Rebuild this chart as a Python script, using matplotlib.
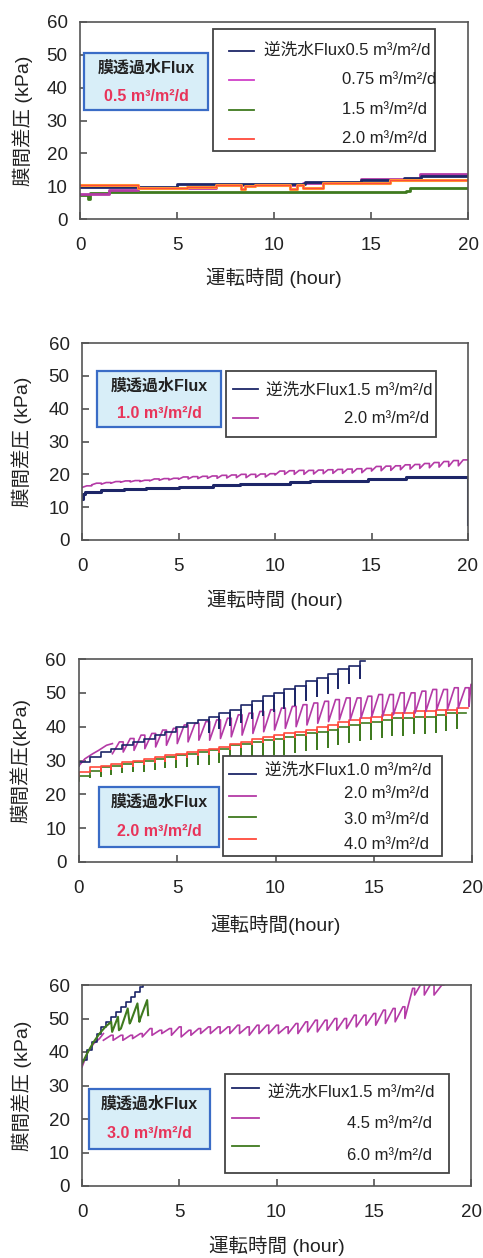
import numpy as np
import matplotlib
matplotlib.use("Agg")
import matplotlib.pyplot as plt
from matplotlib.patches import Rectangle

plt.rcParams['font.family'] = ['Liberation Sans', 'Noto Sans CJK JP']

NAVY = '#1d2668'
PINK = '#b43aa6'
GREEN = '#3f7a1f'
RED = '#ff4a3c'
ORANGE = '#ffa032'

# ---------------- panel 1 : filtration flux 0.5 (step data) ----------------
p1_navy_t = [0, 5.0, 11.6, 14.5, 16.7, 17.6, 20]
p1_navy_v = [9.8, 10.7, 11.4, 11.9, 12.6, 13.2, 13.2]
p1_pink_t = [0, 1.5, 3.0, 7.0, 11.5, 14.5, 17.5, 20]
p1_pink_v = [7.7, 8.9, 9.3, 10.4, 11.0, 12.3, 13.6, 13.6]
p1_green_t = [0, 0.3, 0.4, 0.5, 1.5, 16.8, 17.0, 20]
p1_green_v = [7.3, 7.3, 6.0, 7.8, 8.3, 8.4, 9.4, 9.4]
p1_orange_t = [0, 3.0, 5.5, 7.0, 8.3, 8.5, 9.0, 10.8, 11.2, 11.5, 12.5, 16.0, 20]
p1_orange_v = [10.5, 9.3, 9.7, 10.3, 9.0, 10.2, 10.3, 9.2, 10.3, 9.3, 11.0, 11.8, 11.8]

# ---------------- panel 2 : filtration flux 1.0 ----------------
p2_navy_t = [0, 0.05, 0.15, 1.0, 2.2, 3.3, 5.0, 6.8, 8.2, 10.8, 11.8, 14.8, 16.8, 19.97, 20.0]
p2_navy_v = [12.5, 14.0, 14.6, 15.1, 15.5, 15.8, 16.2, 16.8, 17.2, 17.6, 18.1, 18.6, 19.1, 19.1, 5.0]
p2_pink_t = [0.0, 0.5, 1.0, 1.5, 2.0, 2.5, 3.0, 3.5, 4.0, 4.5, 5.0, 5.5, 6.0, 6.5,
             7.0, 7.5, 8.0, 8.5, 9.0, 9.5, 10.0, 10.5, 11.0, 11.5, 12.0, 12.5, 13.0,
             13.5, 14.0, 14.5, 15.0, 15.5, 16.0, 16.5, 17.0, 17.5, 18.0, 18.5, 19.0,
             19.5, 20.0]
p2_pink_lo = [16.0, 16.8, 17.0, 17.3, 17.6, 17.7, 17.8, 18.0, 18.2, 18.3, 18.5, 18.6,
              18.7, 18.8, 18.8, 18.9, 19.0, 19.0, 19.1, 19.2, 19.8, 20.0, 20.0, 20.0,
              20.1, 20.2, 20.3, 20.3, 20.4, 20.5, 21.0, 21.1, 21.2, 21.4, 21.6, 21.8,
              22.0, 22.2, 22.4, 22.6]
p2_pink_hi = [16.5, 17.3, 17.5, 17.8, 18.0, 18.1, 18.2, 18.6, 18.7, 18.8, 19.2, 19.3,
              19.4, 19.5, 19.7, 19.8, 20.0, 20.0, 20.1, 20.2, 21.0, 21.1, 21.2, 21.2,
              21.3, 21.4, 21.5, 21.6, 21.7, 21.8, 22.4, 22.5, 22.6, 22.9, 23.0, 23.3,
              23.6, 23.9, 24.2, 24.4]

# ---------------- panel 3 : filtration flux 2.0 ----------------
p3_cyc = [0.0, 0.55, 1.1, 1.65, 2.2, 2.75, 3.3, 3.85, 4.4, 4.95, 5.5, 6.05, 6.6, 7.15,
          7.7, 8.25, 8.8, 9.35, 9.9, 10.45, 11.0, 11.55, 12.1, 12.65, 13.2, 13.75,
          14.3, 14.85, 15.4, 15.95, 16.5, 17.05, 17.6, 18.15, 18.7, 19.25, 19.8]
p3_navy_lvl = [29.5, 31.0, 32.5, 33.5, 34.5, 35.5, 36.5, 37.5, 38.5, 40.0, 41.0, 42.0,
               43.0, 44.0, 45.0, 46.5, 47.5, 49.0, 50.0, 51.0, 52.0, 53.5, 54.5, 55.5,
               57.0, 58.0, 59.5]
p3_navy_low = [28.5, 30.0, 31.5, 32.5, 33.5, 34.5, 35.5, 36.5, 37.5, 39.0, 40.0, 41.0,
               38.5, 39.5, 40.5, 41.5, 42.5, 43.5, 44.5, 45.5, 46.5, 48.0, 49.0, 50.0,
               51.5, 53.0, 54.5]
p3_navy_end = 14.55
p3_pink_pre_t = [0.0, 0.3, 0.7, 1.0, 1.4, 1.7]
p3_pink_pre_v = [28.5, 30.5, 32.0, 33.0, 34.5, 35.0]
p3_pink_t = [1.7, 2.25, 2.8, 3.35, 3.9, 4.45, 5.0, 5.55, 6.1, 6.65, 7.2, 7.75, 8.3,
             8.85, 9.4, 9.95, 10.5, 11.05, 11.6, 12.15, 12.7, 13.25, 13.8, 14.35,
             14.9, 15.45, 16.0, 16.55, 17.1, 17.65, 18.2, 18.75, 19.3, 19.85, 20.0]
p3_pink_lo = [32.0, 32.5, 33.0, 33.5, 34.0, 34.5, 35.0, 35.5, 36.0, 36.0, 36.5, 37.0,
              37.5, 38.0, 38.5, 39.0, 39.5, 40.0, 40.5, 41.0, 41.5, 42.0, 42.0, 42.5,
              43.0, 43.0, 43.5, 44.0, 44.0, 44.5, 45.0, 45.0, 45.5, 46.0]
p3_pink_hi = [35.5, 36.5, 37.5, 38.0, 39.0, 39.5, 40.5, 41.0, 41.5, 42.0, 42.5, 43.5,
              44.0, 44.5, 45.0, 45.5, 46.0, 46.5, 47.0, 47.5, 48.0, 48.5, 48.5, 49.0,
              49.5, 49.5, 50.0, 50.0, 50.5, 51.0, 51.0, 51.5, 51.5, 52.5]
p3_green_lvl = [25.5, 27.0, 28.0, 28.5, 29.0, 29.5, 30.0, 30.5, 31.0, 31.5, 32.0, 32.5,
                33.0, 33.5, 34.5, 35.0, 35.5, 36.0, 36.5, 37.0, 37.5, 38.0, 38.5, 39.0,
                40.0, 40.5, 41.0, 41.5, 42.0, 42.5, 42.5, 43.0, 43.0, 43.5, 44.0, 44.0]
p3_green_low = [24.0, 25.0, 25.5, 26.0, 26.5, 27.0, 27.0, 27.5, 28.0, 28.0, 28.5, 29.0,
                29.0, 29.5, 30.0, 30.5, 31.0, 31.5, 32.0, 32.0, 32.5, 33.0, 33.5, 34.0,
                35.0, 35.5, 36.0, 36.5, 37.0, 37.5, 37.5, 38.0, 38.0, 38.5, 39.0, 39.5]
p3_green_end = 19.7
p3_red_lvl = [26.5, 28.0, 28.5, 29.0, 29.5, 30.0, 30.5, 31.0, 31.5, 32.0, 32.5, 33.0,
              33.5, 34.0, 35.0, 35.5, 36.5, 37.0, 37.5, 38.0, 38.5, 39.0, 40.0, 40.5,
              41.5, 42.0, 42.5, 43.0, 43.5, 44.0, 44.0, 44.5, 44.5, 45.0, 45.0, 45.5]
p3_red_low = [25.5, 26.5, 27.0, 27.5, 28.0, 28.5, 29.0, 29.5, 30.0, 30.5, 31.0, 31.5,
              32.0, 32.5, 33.5, 34.0, 35.0, 35.5, 36.0, 36.5, 37.0, 37.5, 38.5, 39.0,
              40.0, 40.5, 41.0, 41.5, 42.0, 42.5, 42.5, 43.0, 43.0, 43.5, 43.5, 44.0]
p3_red_end = 19.8

# ---------------- panel 4 : filtration flux 3.0 ----------------
p4_navy_t = [0, 0.25, 0.5, 0.75, 1.0, 1.25, 1.5, 1.75, 2.0, 2.25, 2.5, 2.75, 3.0, 3.15]
p4_navy_v = [37.5, 40.5, 43.0, 45.5, 47.5, 49.0, 50.5, 52.0, 53.5, 55.0, 56.5, 58.0, 59.5, 60.5]
p4_green_t = [0, 0.3, 0.6, 0.9, 1.2, 1.5, 1.55, 1.85, 1.9, 2.0, 2.35, 2.45, 2.5,
              2.85, 2.95, 3.0, 3.35, 3.4]
p4_green_v = [36.5, 40.0, 43.0, 45.5, 47.5, 49.0, 46.0, 50.5, 46.5, 47.0, 53.0, 48.5,
              49.0, 54.5, 49.0, 50.0, 55.5, 51.0]
p4_pink_pre_t = [0.0, 0.3, 0.6, 0.9, 1.1]
p4_pink_pre_v = [35.5, 40.0, 42.5, 44.0, 45.5]
p4_pink_t = [1.1, 1.6, 2.1, 2.6, 3.1, 3.6, 4.1, 4.6, 5.1, 5.6, 6.1, 6.6, 7.1, 7.6,
             8.1, 8.6, 9.1, 9.6, 10.1, 10.6, 11.1, 11.6, 12.1, 12.6, 13.1, 13.6,
             14.1, 14.6, 15.1, 15.6, 16.1, 16.6, 17.1, 17.6, 18.1, 18.6]
p4_pink_lo = [43.5, 43.5, 43.5, 44.0, 44.5, 45.0, 45.5, 45.0, 44.5, 45.0, 45.5, 45.5,
              45.5, 45.5, 45.5, 45.0, 45.5, 45.5, 45.5, 45.5, 45.5, 46.0, 46.0, 46.5,
              46.5, 47.0, 47.5, 48.0, 48.0, 48.5, 49.0, 50.0, 57.0, 57.0, 57.0]
p4_pink_hi = [45.0, 45.0, 45.0, 45.5, 47.0, 46.5, 47.0, 47.5, 46.5, 47.0, 47.5, 47.5,
              47.5, 48.0, 47.5, 48.0, 48.0, 48.0, 47.5, 48.5, 49.0, 49.5, 49.5, 50.0,
              50.0, 51.0, 51.0, 51.5, 52.5, 53.0, 53.5, 59.0, 61.0, 61.0, 60.0]


def saw(t, lo, hi, flat=0.0):
    # value drops to lo at each backwash t[i], climbs to hi and holds until t[i+1]
    t = np.asarray(t, float)
    knee = t[1:] - flat * np.diff(t)
    x = np.column_stack([t[:-1], knee, t[1:]]).ravel()
    y = np.column_stack([lo, hi, hi]).ravel()
    return x, y


def stairs(t, lvl, low):
    # short dip to low at each backwash, then hold lvl until the next one
    t = np.asarray(t, float)
    x = np.column_stack([t[:-1], t[:-1], t[1:]]).ravel()
    y = np.column_stack([low, lvl, lvl]).ravel()
    return x, y


W, H = 483, 1258
fig = plt.figure(figsize=(W / 100, H / 100), dpi=100)


def make_axes(l, t, r, b):
    return fig.add_axes([l / W, 1 - b / H, (r - l) / W, (b - t) / H])


def style(ax, xlabel, ylabel, ylab_x, xlab_y):
    ax.set_xlim(0, 20)
    ax.set_ylim(0, 60)
    ax.set_xticks([0, 5, 10, 15, 20])
    ax.set_yticks(range(0, 61, 10))
    ax.tick_params(direction='in', length=5, width=1.1, labelsize=13.5,
                   color='#444', labelcolor='#222')
    ax.tick_params(axis='x', pad=13)
    ax.tick_params(axis='y', pad=9)
    for s in ax.spines.values():
        s.set_color('#555')
        s.set_linewidth(1.2)
    ax.text(0.5, xlab_y, xlabel, transform=ax.transAxes, ha='center',
            va='center', fontsize=14, color='#222')
    ax.text(ylab_x, 0.5, ylabel, transform=ax.transAxes, ha='center',
            va='center', rotation=90, fontsize=14, color='#222')


def flux_box(ax, x0, x1, y0, y1, value, ty1, ty2):
    ax.add_patch(Rectangle((x0, y0), x1 - x0, y1 - y0, transform=ax.transAxes,
                           fc='#d8eef8', ec='#3a6cc6', lw=1.6, zorder=5))
    xc = (x0 + x1) / 2
    ax.text(xc, ty1, '膜透過水Flux', transform=ax.transAxes, ha='center',
            va='center', fontsize=11.5, fontweight='bold', color='#222', zorder=6)
    ax.text(xc, ty2, value, transform=ax.transAxes, ha='center', va='center',
            fontsize=11.5, fontweight='bold', color='#e8345a', zorder=6)


def legend_box(ax, x0, x1, y0, y1, sw0, sw1, sw_y, tx1, tx2, text_y, labels, colors):
    ax.add_patch(Rectangle((x0, y0), x1 - x0, y1 - y0, transform=ax.transAxes,
                           fc='white', ec='#444', lw=1.3, zorder=5))
    for i, (lab, c) in enumerate(zip(labels, colors)):
        ax.plot([sw0, sw1], [sw_y[i], sw_y[i]], color=c, lw=1.3,
                transform=ax.transAxes, zorder=6)
        ax.text(tx1 if i == 0 else tx2, text_y[i], lab, transform=ax.transAxes,
                ha='left', va='center', fontsize=12, color='#222', zorder=6)


# ---- panel 1
ax1 = make_axes(80, 22, 468, 219)
ax1.step(p1_green_t, p1_green_v, where='post', color=GREEN, lw=2)
ax1.step(p1_pink_t, p1_pink_v, where='post', color=PINK, lw=2)
ax1.step(p1_navy_t, p1_navy_v, where='post', color=NAVY, lw=2)
ax1.step(p1_orange_t, p1_orange_v, where='post', color=ORANGE, lw=2.2)
ax1.step(p1_orange_t, p1_orange_v, where='post', color=RED, lw=1)
style(ax1, '運転時間 (hour)', '膜間差圧 (kPa)', -0.149, -0.30)
flux_box(ax1, 0.01, 0.33, 0.553, 0.843, '0.5 m³/m²/d', 0.765, 0.621)
legend_box(ax1, 0.343, 0.915, 0.345, 0.964, 0.384, 0.448,
           [0.854, 0.704, 0.553, 0.405], 0.474, 0.675, [0.858, 0.706, 0.557, 0.41],
           ['逆洗水Flux0.5 m³/m²/d', '0.75 m³/m²/d', '1.5 m³/m²/d', '2.0 m³/m²/d'],
           [NAVY, '#d040c8', GREEN, RED])

# ---- panel 2
ax2 = make_axes(82, 343, 468, 540)
x, y = saw(p2_pink_t, p2_pink_lo, p2_pink_hi, flat=0.5)
ax2.plot(x, y, color=PINK, lw=1.2)
ax2.step(p2_navy_t, p2_navy_v, where='post', color=NAVY, lw=2.2)
style(ax2, '運転時間 (hour)', '膜間差圧 (kPa)', -0.156, -0.305)
flux_box(ax2, 0.039, 0.36, 0.574, 0.858, '1.0 m³/m²/d', 0.783, 0.64)
legend_box(ax2, 0.373, 0.917, 0.523, 0.858, 0.391, 0.456, [0.765, 0.618],
           0.476, 0.679, [0.761, 0.618],
           ['逆洗水Flux1.5 m³/m²/d', '2.0 m³/m²/d'], [NAVY, PINK])

# ---- panel 3
ax3 = make_axes(79, 659, 472, 862)
n = len(p3_green_lvl)
x, y = stairs(p3_cyc[:n] + [p3_green_end], p3_green_lvl, p3_green_low)
ax3.plot(x, y, color=GREEN, lw=1.2)
n = len(p3_red_lvl)
x, y = stairs(p3_cyc[:n] + [p3_red_end], p3_red_lvl, p3_red_low)
ax3.plot(x, y, color=RED, lw=1.2)
ax3.plot(p3_pink_pre_t, p3_pink_pre_v, color=PINK, lw=1.2)
x, y = saw(p3_pink_t, p3_pink_lo, p3_pink_hi, flat=0.35)
ax3.plot(x, y, color=PINK, lw=1.2)
n = len(p3_navy_lvl)
x, y = stairs(p3_cyc[:n] + [p3_navy_end], p3_navy_lvl, p3_navy_low)
ax3.plot(x, y, color=NAVY, lw=1.2)
style(ax3, '運転時間(hour)', '膜間差圧(kPa)', -0.150, -0.31)
flux_box(ax3, 0.051, 0.356, 0.072, 0.371, '2.0 m³/m²/d', 0.294, 0.149)
legend_box(ax3, 0.366, 0.924, 0.03, 0.522, 0.382, 0.45,
           [0.433, 0.327, 0.22, 0.112], 0.473, 0.674, [0.453, 0.335, 0.207, 0.084],
           ['逆洗水Flux1.0 m³/m²/d', '2.0 m³/m²/d', '3.0 m³/m²/d', '4.0 m³/m²/d'],
           [NAVY, PINK, GREEN, RED])

# ---- panel 4
ax4 = make_axes(82, 985, 471, 1186)
ax4.plot(p4_pink_pre_t, p4_pink_pre_v, color=PINK, lw=1.2)
x, y = saw(p4_pink_t, p4_pink_lo, p4_pink_hi, flat=0.2)
ax4.plot(x, y, color=PINK, lw=1.2)
ax4.step(p4_navy_t, p4_navy_v, where='post', color=NAVY, lw=1.2)
ax4.plot(p4_green_t, p4_green_v, color=GREEN, lw=1.5)
style(ax4, '運転時間 (hour)', '膜間差圧 (kPa)', -0.155, -0.30)
flux_box(ax4, 0.018, 0.329, 0.184, 0.483, '3.0 m³/m²/d', 0.408, 0.262)
legend_box(ax4, 0.368, 0.943, 0.065, 0.557, 0.386, 0.455, [0.489, 0.34, 0.2],
           0.477, 0.682, [0.469, 0.312, 0.154],
           ['逆洗水Flux1.5 m³/m²/d', '4.5 m³/m²/d', '6.0 m³/m²/d'],
           [NAVY, PINK, GREEN])

fig.savefig('out.png', dpi=100)
